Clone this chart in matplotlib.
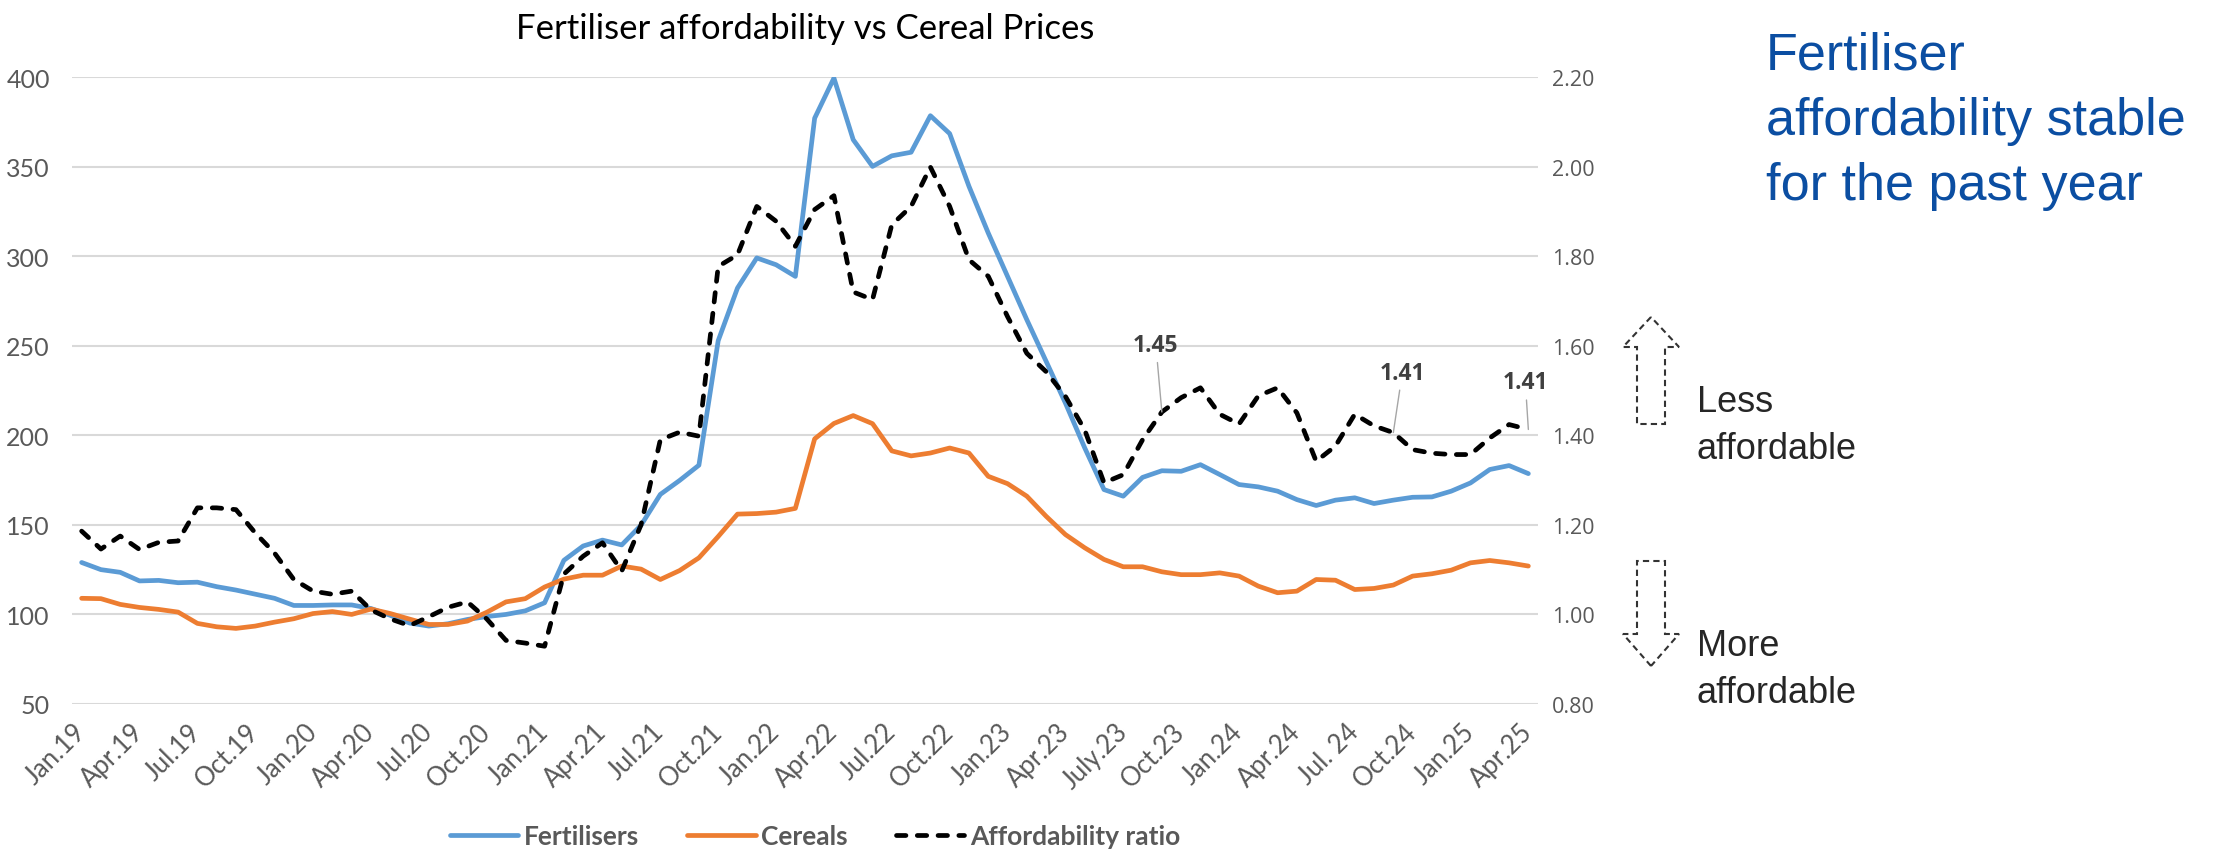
"""Fertiliser affordability vs cereal prices, Jan 2019 - Apr 2025."""

import matplotlib

matplotlib.use("Agg")
import matplotlib.pyplot as plt
import numpy as np
from matplotlib.patches import Polygon

# Monthly index values, Jan.19 ... Apr.25 (76 months)
fertilisers = [
    129, 125, 123.5, 118.7, 119, 117.7, 118, 115.5, 113.6, 111.3, 109, 105,
    105, 105.3, 105.3, 103.3, 99.5, 95.2, 93.5, 94.8, 97.2, 98.8, 100, 102,
    106.5, 130.2, 138.2, 141.5, 138.8, 149.8, 167, 174.8, 183.3, 252.8, 282.2, 299,
    295.2, 288.7, 377, 399.4, 365, 350.1, 356, 358, 378.4, 368.4, 339, 312.9,
    288.7, 264.5, 241.3, 218, 193, 169.7, 166, 176.5, 180.2, 179.9, 183.6, 178.1,
    172.5, 171.2, 168.8, 164.1, 160.8, 163.8, 165.1, 161.9, 163.8, 165.4, 165.6, 168.8,
    173.4, 180.9, 183.1, 178.6,
]
cereals = [
    109, 108.8, 105.6, 103.9, 102.8, 101.3, 95, 93.1, 92.2, 93.5, 95.7, 97.6,
    100.5, 101.6, 100, 103, 100.5, 97.4, 94.4, 94.4, 96.3, 101.2, 107, 108.8,
    115.3, 119.7, 121.9, 121.9, 127, 125.3, 119.5, 124.5, 131.6, 143.5, 156, 156.3,
    157.1, 159.2, 198, 206.6, 211, 206.5, 191.3, 188.5, 190.1, 192.9, 190.1, 177.1,
    173, 166, 154.8, 144.6, 137.2, 130.7, 126.6, 126.6, 123.8, 122.2, 122.2, 123.2,
    121.4, 115.8, 112.1, 113, 119.5, 119.1, 113.9, 114.5, 116.4, 121.4, 122.7, 124.7,
    128.8, 130.1, 128.8, 127,
]
ratio = [
    1.186, 1.146, 1.175, 1.145, 1.161, 1.164, 1.238, 1.238, 1.234, 1.182, 1.137, 1.078,
    1.052, 1.045, 1.052, 1.010, 0.990, 0.975, 0.995, 1.016, 1.028, 0.990, 0.942, 0.936,
    0.929, 1.090, 1.130, 1.160, 1.097, 1.200, 1.390, 1.407, 1.398, 1.777, 1.803, 1.911,
    1.878, 1.822, 1.904, 1.935, 1.720, 1.703, 1.870, 1.911, 1.999, 1.911, 1.792, 1.755,
    1.665, 1.583, 1.542, 1.487, 1.412, 1.294, 1.312, 1.390, 1.452, 1.484, 1.506, 1.447,
    1.425, 1.488, 1.506, 1.450, 1.342, 1.376, 1.447, 1.421, 1.406, 1.368, 1.360, 1.357,
    1.357, 1.394, 1.424, 1.413,
]
tick_labels = [
    "Jan.19", "Apr.19", "Jul.19", "Oct.19", "Jan.20", "Apr.20", "Jul.20", "Oct.20",
    "Jan.21", "Apr.21", "Jul.21", "Oct.21", "Jan.22", "Apr.22", "Jul.22", "Oct.22",
    "Jan.23", "Apr.23", "July.23", "Oct.23", "Jan.24", "Apr.24", "Jul. 24", "Oct.24",
    "Jan.25", "Apr.25",
]
labelled_months = [56, 68, 75]

W, H = 2218, 853
narrow = "Lato"  # closest installed match for Calibri
grey = "#595959"


def fig_xy(x, y):
    """Pixel position (from top left) to figure fraction."""
    return x / W, 1 - y / H


fig = plt.figure(figsize=(W / 100, H / 100), dpi=100)
x0, y1 = fig_xy(72, 705)
x1, y0 = fig_xy(1538, 78)
ax = fig.add_axes([x0, y1, x1 - x0, y0 - y1])
ax2 = ax.twinx()

x = np.arange(len(fertilisers))
l1, = ax.plot(x, fertilisers, color="#5B9BD5", lw=3.4, solid_capstyle="round",
              solid_joinstyle="round", label="Fertilisers")
l2, = ax.plot(x, cereals, color="#ED7D31", lw=3.4, solid_capstyle="round",
              solid_joinstyle="round", label="Cereals")
l3, = ax2.plot(x, ratio, color="black", lw=3.4, linestyle=(0, (2.0, 2.4)),
               dash_capstyle="round", label="Affordability ratio")

ax.set_xlim(-0.5, len(x) - 0.5)
ax.set_ylim(50, 400)
ax.set_yticks(np.arange(50, 401, 50))
ax2.set_ylim(0.8, 2.2)
ax2.set_yticks(np.arange(0.8, 2.21, 0.2))
ax2.set_yticklabels([f"{v:.2f}" for v in np.arange(0.8, 2.21, 0.2)])

ax.set_xticks(x[::3])
ax.set_xticklabels(tick_labels, rotation=45, ha="right", va="center",
                   rotation_mode="anchor", fontfamily=narrow, fontsize=18.5, color=grey)
ax.grid(axis="y", color="#D9D9D9", lw=1.5)
ax.set_axisbelow(True)
for a in (ax, ax2):
    for s in a.spines.values():
        s.set_visible(False)
ax.tick_params(axis="both", length=0)
ax.tick_params(axis="x", pad=17)
ax.tick_params(axis="y", pad=16, labelsize=18, labelcolor=grey)
for t in ax.get_yticklabels():
    t.set_fontfamily(narrow)
ax2.tick_params(axis="y", length=0, pad=10, labelsize=15.5, labelcolor=grey)
for t in ax2.get_yticklabels():
    t.set_fontfamily("Open Sans")

ax.set_title("Fertiliser affordability vs Cereal Prices", fontfamily=narrow,
             fontsize=25, pad=28)

# value labels on the ratio line
offsets = {56: (-6, 67), 68: (9, 60), 75: (-3, 47)}
for i in labelled_months:
    ax2.annotate(f"{ratio[i]:.2f}", xy=(i, ratio[i]), xytext=offsets[i],
                 textcoords="offset pixels", ha="center", va="center",
                 fontsize=16.5, fontweight="bold", fontfamily="Open Sans", color="#404040",
                 arrowprops=dict(arrowstyle="-", color="#A6A6A6", lw=1,
                                 shrinkA=2, shrinkB=0))

fig.legend(handles=[l1, l2, l3], loc="center", bbox_to_anchor=(fig_xy(815, 837)),
           ncol=3, frameon=False, handlelength=2.6, handletextpad=0.22,
           columnspacing=1.8, prop=dict(family=narrow, weight="bold", size=19),
           labelcolor=grey)

# right-hand commentary
fig.text(*fig_xy(1766, 32), "Fertiliser\naffordability stable\nfor the past year",
         ha="left", va="top", fontsize=37.5, color="#0B4EA2",
         fontfamily="Liberation Sans", linespacing=1.42)
fig.text(*fig_xy(1697, 385), "Less\naffordable", ha="left", va="top", fontsize=26,
         color="#262626", fontfamily="Liberation Sans", linespacing=1.45)
fig.text(*fig_xy(1697, 629), "More\naffordable", ha="left", va="top", fontsize=26,
         color="#262626", fontfamily="Liberation Sans", linespacing=1.45)


def arrow(tip_y, base_y, end_y, cx=1651, shaft=14, head=28):
    pts = [(cx, tip_y), (cx - head, base_y), (cx - shaft, base_y), (cx - shaft, end_y),
           (cx + shaft, end_y), (cx + shaft, base_y), (cx + head, base_y)]
    fig.patches.append(Polygon([fig_xy(px, py) for px, py in pts], closed=True,
                               fill=False, ec="#333333", lw=1.5, ls=(0, (3, 2)),
                               transform=fig.transFigure, figure=fig))


arrow(318, 348, 425)
arrow(667, 635, 562)

fig.savefig("out.png", dpi=100)
